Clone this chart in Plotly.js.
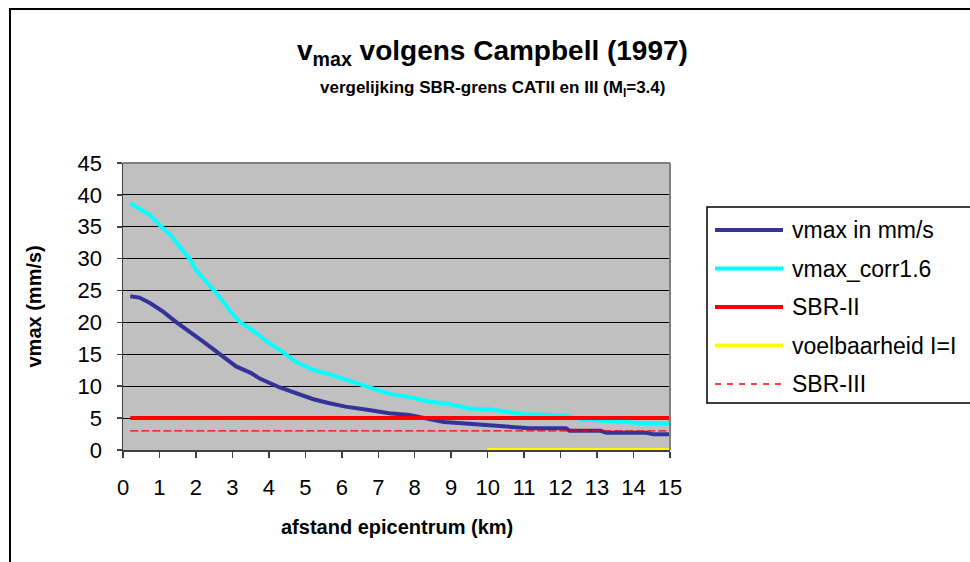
<!DOCTYPE html>
<html>
<head>
<meta charset="utf-8">
<script src="https://cdn.plot.ly/plotly-3.0.1.min.js"></script>
<style>html,body{margin:0;padding:0;background:#fff;}#chart{width:970px;height:562px;}</style>
</head>
<body>
<div id="chart"></div>
<script>
// ---- data ----
const seriesNames = ["vmax in mm/s", "vmax_corr1.6", "SBR-II", "voelbaarheid I=I", "SBR-III"];

const vmaxX = [0.2,0.45,0.75,1.1,1.45,1.85,2.2,2.5,2.75,3.1,3.5,3.75,4.3,4.95,5.2,5.6,6.1,6.7,7.05,7.3,7.85,8.25,8.8,9.3,9.95,10.5,11.15,12.15,12.25,13.1,13.25,14.35,14.55,15];
const vmaxY = [24.1,23.9,23.0,21.7,20.1,18.5,17.0,15.7,14.6,13.1,12.1,11.2,9.8,8.4,8.0,7.4,6.8,6.3,5.9,5.75,5.5,5.1,4.4,4.2,3.9,3.65,3.4,3.4,3.0,3.0,2.7,2.7,2.45,2.45];

const corrX = [0.2,0.45,0.75,1.0,1.3,1.55,1.85,2.0,2.3,2.5,2.75,2.95,3.2,3.55,3.95,4.3,4.75,5.2,5.7,6.15,6.6,7.05,7.3,7.85,8.4,8.95,9.5,10.05,10.6,11.0,11.7,12.15,12.6,13.5,14.3,15];
const corrY = [38.7,37.9,36.8,35.3,33.7,31.9,29.8,28.2,26.4,25.0,23.2,21.7,20.1,18.8,17.0,15.7,13.8,12.6,11.8,11.0,10.2,9.4,8.8,8.3,7.6,7.2,6.5,6.4,6.0,5.6,5.5,5.4,4.8,4.4,4.2,4.2];

const sbr2X = [0.2, 15];
const sbr2Y = [5, 5];
const voelX = [10, 15];
const voelY = [0, 0];
const sbr3X = [0.2, 15];
const sbr3Y = [3, 3];

const xTicks = [0,1,2,3,4,5,6,7,8,9,10,11,12,13,14,15];
const yTicks = [0,5,10,15,20,25,30,35,40,45];

// ---- styles ----
const styles = [
  {color: "#333399", width: 4, dash: "solid"},
  {color: "#00FFFF", width: 4, dash: "solid"},
  {color: "#FF0000", width: 4, dash: "solid"},
  {color: "#FFFF00", width: 4, dash: "solid"},
  {color: "#FF0000", width: 1.3, dash: "8px,3px"}
];
const xs = [vmaxX, corrX, sbr2X, voelX, sbr3X];
const ys = [vmaxY, corrY, sbr2Y, voelY, sbr3Y];

const FONT = "Liberation Sans, Arial, sans-serif";
const W = 970, H = 562;
const L = 123, R = 670, T = 163, B = 450;
const px = v => (v - L) / (R - L);
const py = v => (B - v) / (B - T);

const traces = seriesNames.map((n, i) => ({
  type: "scatter", mode: "lines", name: n,
  x: xs[i], y: ys[i],
  line: {color: styles[i].color, width: styles[i].width, dash: styles[i].dash},
  showlegend: false, hoverinfo: "skip"
}));

const shapes = [
  {type: "rect", xref: "paper", yref: "paper", x0: px(10), x1: px(990), y0: py(575), y1: py(9),
   line: {color: "#000", width: 2}, fillcolor: "rgba(0,0,0,0)", layer: "below"},
  {type: "line", xref: "paper", yref: "paper", x0: 0, x1: 1, y0: 1, y1: 1, line: {color: "#808080", width: 2}},
  {type: "line", xref: "paper", yref: "paper", x0: 1, x1: 1, y0: 0, y1: 1, line: {color: "#808080", width: 2}},
  {type: "rect", xref: "paper", yref: "paper", x0: px(707), x1: px(995), y0: py(403), y1: py(207),
   line: {color: "#000", width: 1.5}, fillcolor: "#fff"}
];
const annotations = [
  {xref: "paper", yref: "paper", x: px(492), y: py(52), xanchor: "center", yanchor: "middle", showarrow: false,
   text: "<b>v<sub>max</sub> volgens Campbell (1997)</b>", font: {family: FONT, size: 28, color: "#000"}},
  {xref: "paper", yref: "paper", x: px(492), y: py(89), xanchor: "center", yanchor: "middle", showarrow: false,
   text: "<b>vergelijking SBR-grens CATII en III (M<sub>l</sub>=3.4)</b>", font: {family: FONT, size: 17, color: "#000"}},
  {xref: "paper", yref: "paper", x: 0.5, y: py(527), xanchor: "center", yanchor: "middle", showarrow: false,
   text: "<b>afstand epicentrum (km)</b>", font: {family: FONT, size: 20, color: "#000"}},
  {xref: "paper", yref: "paper", x: px(33), y: 0.5, xanchor: "center", yanchor: "middle", showarrow: false, textangle: -90,
   text: "<b>vmax (mm/s)</b>", font: {family: FONT, size: 20, color: "#000"}}
];
const legendY = [230, 268.5, 307, 345.5, 384];
seriesNames.forEach((n, i) => {
  shapes.push({type: "line", xref: "paper", yref: "paper", x0: px(715), x1: px(783), y0: py(legendY[i]), y1: py(legendY[i]),
    line: {color: styles[i].color, width: styles[i].width, dash: i === 4 ? "6px,6px" : "solid"}});
  annotations.push({xref: "paper", yref: "paper", x: px(790), y: py(legendY[i]), xanchor: "left", yanchor: "middle",
    showarrow: false, text: n, font: {family: FONT, size: 23, color: "#000"}});
});

const layout = {
  width: W, height: H,
  margin: {l: L, r: W - R, t: T, b: H - B, pad: 0},
  paper_bgcolor: "#fff", plot_bgcolor: "#C0C0C0",
  font: {family: FONT, size: 22, color: "#000"},
  xaxis: {range: [0, 15], tickvals: xTicks, ticktext: xTicks.map(String), ticks: "outside", ticklen: 6, tickwidth: 1.5,
    tickcolor: "#404040", showgrid: false, zeroline: false, showline: true, linecolor: "#404040", linewidth: 1.5,
    tickfont: {family: FONT, size: 22, color: "#000"}, ticklabelstandoff: 11, fixedrange: true},
  yaxis: {range: [0, 45], tickvals: yTicks, ticktext: yTicks.map(String), ticks: "outside", ticklen: 5, tickwidth: 1.5,
    tickcolor: "#404040", showgrid: true, gridcolor: "#000", gridwidth: 1, zeroline: false, showline: true,
    linecolor: "#404040", linewidth: 1.5, tickfont: {family: FONT, size: 22, color: "#000"}, ticklabelstandoff: 10, fixedrange: true},
  showlegend: false,
  shapes: shapes,
  annotations: annotations
};

Plotly.newPlot("chart", traces, layout, {staticPlot: true, displayModeBar: false});
</script>
</body>
</html>
